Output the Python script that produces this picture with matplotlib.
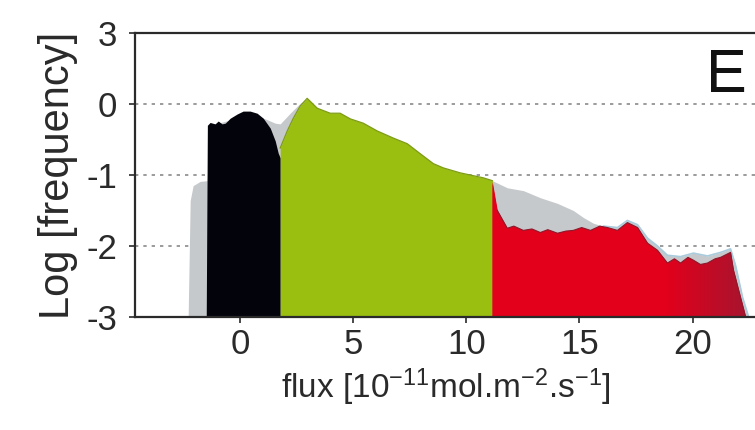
import numpy as np
import matplotlib.pyplot as plt
from matplotlib.colors import LinearSegmentedColormap

plt.rcParams['font.family'] = ['Liberation Sans', 'DejaVu Sans']
plt.rcParams['mathtext.default'] = 'regular'

# Log frequency of flux values (flux in 1e-11 mol m-2 s-1)

# full distribution (grey, behind)
all_x = [-2.30, -2.21, -2.08, -1.77, -1.46, -1.33, 0.44, 1.11, 1.55, 1.77, 2.21, 2.65, 2.96,
         3.41, 3.98, 4.42, 4.87, 5.44, 6.06, 6.77, 7.39, 7.96, 8.54, 8.98, 9.73, 10.75, 11.15,
         11.81, 12.52, 13.27, 14.03, 14.73, 15.18, 15.62, 16.06, 16.68, 17.12, 17.57, 18.01,
         18.45, 18.89, 19.47, 20.04, 20.66, 21.24, 21.68, 21.90, 22.21, 22.48]
all_y = [-3.0, -1.36, -1.15, -1.09, -1.08, -0.30, -0.15, -0.21, -0.27, -0.28, -0.13, 0.01, 0.08,
         -0.06, -0.13, -0.13, -0.21, -0.27, -0.38, -0.48, -0.56, -0.70, -0.84, -0.90, -0.97, -1.04, -1.08,
         -1.18, -1.22, -1.32, -1.40, -1.50, -1.60, -1.68, -1.72, -1.74, -1.64, -1.70, -1.89,
         -2.00, -2.13, -2.15, -2.10, -2.14, -2.09, -2.04, -2.27, -2.72, -3.0]

# low class (black)
black_x = [-1.50, -1.45, -1.33, -1.11, -0.97, -0.80, -0.66, -0.44, -0.13, 0.13, 0.44, 0.75,
           1.02, 1.33, 1.55, 1.68, 1.77]
black_y = [-3.0, -0.30, -0.26, -0.28, -0.24, -0.28, -0.27, -0.20, -0.14, -0.10, -0.10, -0.13,
           -0.20, -0.34, -0.52, -0.69, -0.76]

# middle class (green)
green_x = [1.77, 2.08, 2.35, 2.65, 2.96, 3.41, 3.98, 4.42, 4.87, 5.44, 6.06, 6.77, 7.39,
           7.96, 8.54, 8.98, 9.73, 10.75, 11.15]
green_y = [-0.62, -0.38, -0.20, -0.03, 0.08, -0.06, -0.13, -0.13, -0.21, -0.27, -0.38, -0.48, -0.56,
           -0.70, -0.84, -0.90, -0.97, -1.04, -1.08]

# high class (red)
red_x = [11.15, 11.37, 11.81, 12.10, 12.52, 12.90, 13.27, 13.60, 14.03, 14.40, 14.73, 15.10,
         15.49, 15.90, 16.24, 16.68, 17.12, 17.57, 18.01, 18.45, 18.89, 19.20, 19.47, 19.80,
         20.04, 20.35, 20.66, 21.00, 21.24, 21.68, 21.81, 22.12, 22.35]
red_y = [-1.10, -1.50, -1.75, -1.72, -1.78, -1.76, -1.81, -1.77, -1.82, -1.79, -1.78, -1.74,
         -1.78, -1.72, -1.74, -1.78, -1.67, -1.74, -1.96, -2.06, -2.24, -2.18, -2.24, -2.16,
         -2.20, -2.26, -2.24, -2.18, -2.16, -2.09, -2.34, -2.72, -3.0]

xtick_vals = [0, 5, 10, 15, 20]
ytick_vals = [-3, -2, -1, 0, 1]
ytick_labels = ['-3', '-2', '-1', '0', '3']

fig = plt.figure(figsize=(7.55, 4.3), dpi=100)
ax = fig.add_axes([135 / 755, 1 - 317 / 430, 622 / 755, 284 / 430])

ax.fill_between(all_x, all_y, -3, color='#c6c9cb', lw=0, zorder=2)
ax.plot(all_x[34:], all_y[34:], color='#a9cbdc', lw=1.2, zorder=2.1)
ax.fill_between(black_x, black_y, -3, color='#03030c', lw=0, zorder=3)
ax.fill_between(green_x, green_y, -3, color='#9abf10', lw=0, zorder=3)
ax.plot(green_x, green_y, color='#7d9c12', lw=0.9, zorder=3.2)

red_fill = ax.fill_between(red_x, red_y, -3, color='#e3001b', lw=0, zorder=3)
# darker shade toward the right end of the red class
cmap = LinearSegmentedColormap.from_list('redshade', [(0, '#e3001b'), (0.68, '#e3001b'),
                                                      (1.0, '#a8142e')])
grad = np.linspace(0, 1, 256).reshape(1, -1)
im = ax.imshow(grad, extent=[red_x[0], red_x[-1], -3, 0], aspect='auto', cmap=cmap,
               zorder=3.1, interpolation='bilinear')
im.set_clip_path(red_fill.get_paths()[0], transform=ax.transData)
ax.plot(red_x[1:], red_y[1:], color='#8c1a2c', lw=0.8, zorder=3.2)

ax.set_xlim(-4.65, 22.85)
ax.set_ylim(-3, 1)
ax.set_xticks(xtick_vals)
ax.set_yticks(ytick_vals)
ax.set_yticklabels(ytick_labels)

ax.grid(axis='y', linestyle=(0, (2, 3)), color='#8a8a8a', lw=1.2)
ax.set_axisbelow(True)

for side in ['left', 'bottom', 'top']:
    ax.spines[side].set_linewidth(1.6)
    ax.spines[side].set_color('#2a2a2a')
    ax.spines[side].set_zorder(5)
ax.spines['right'].set_visible(False)

ax.tick_params(axis='both', labelsize=25, colors='#2a2a2a', length=4, width=1.2)
ax.tick_params(axis='y', pad=9)
ax.tick_params(axis='x', pad=4)

ax.set_xlabel('flux [10$^{-11}$mol.m$^{-2}$.s$^{-1}$]', fontsize=24, color='#2a2a2a', labelpad=4)
ax.set_ylabel('Log [frequency]', fontsize=30, color='#2a2a2a', labelpad=6)

fig.text(726 / 755, 1 - 92 / 430, 'E', fontsize=44, ha='center', va='baseline', color='#111111')

fig.savefig('out.png', dpi=100)
